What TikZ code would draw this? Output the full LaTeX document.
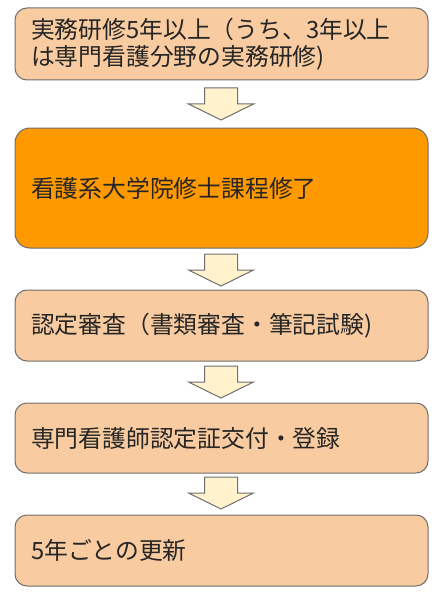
\documentclass[tikz,border=0pt]{standalone}
\usepackage{fontspec}
\setmainfont{Noto Sans CJK JP}
\definecolor{boxlight}{HTML}{F8CBA0}
\definecolor{boxdark}{HTML}{FF9900}
\definecolor{edgegray}{HTML}{6E6E6E}
\definecolor{arrowfill}{HTML}{FFF2CC}
\tikzset{
  stepbox/.style={draw=edgegray, line width=1pt, rounded corners=12pt, fill=boxlight,
    minimum width=413pt, text width=381pt, align=left, inner xsep=16pt,
    font=\fontsize{23.8}{26.5}\selectfont, text=black!85},
  darkbox/.style={stepbox, fill=boxdark, rounded corners=15pt},
  blockarrow/.style={draw=edgegray, line width=1pt, fill=arrowfill, line join=miter},
  pics/downarrow/.style={code={
    \draw[blockarrow] (-16.5,0) -- (16.5,0) -- (16.5,16) -- (32.5,16) -- (0,32)
      -- (-32.5,16) -- (-16.5,16) -- cycle;}}
}
\begin{document}
\begin{tikzpicture}[x=1pt,y=-1pt]
\useasboundingbox (0,0) rectangle (438,599);
\node[stepbox, minimum height=72pt] (b1) at (221.5,44) {実務研修5年以上（うち、3年以上\\は専門看護分野の実務研修)};
\node[darkbox, minimum height=120pt] (b2) at (221.5,188) {看護系大学院修士課程修了};
\node[stepbox, minimum height=71pt] (b3) at (221.5,325.5) {認定審査（書類審査・筆記試験)};
\node[stepbox, minimum height=70pt] (b4) at (221.5,438) {専門看護師認定証交付・登録};
\node[stepbox, minimum height=71pt] (b5) at (221.5,550.5) {5年ごとの更新};
\coordinate (a1) at (221,88);
\coordinate (a2) at (221,254);
\coordinate (a3) at (221,366);
\coordinate (a4) at (221,477);
\pic at (a1) {downarrow};
\pic at (a2) {downarrow};
\pic at (a3) {downarrow};
\pic at (a4) {downarrow};
\end{tikzpicture}
\end{document}
